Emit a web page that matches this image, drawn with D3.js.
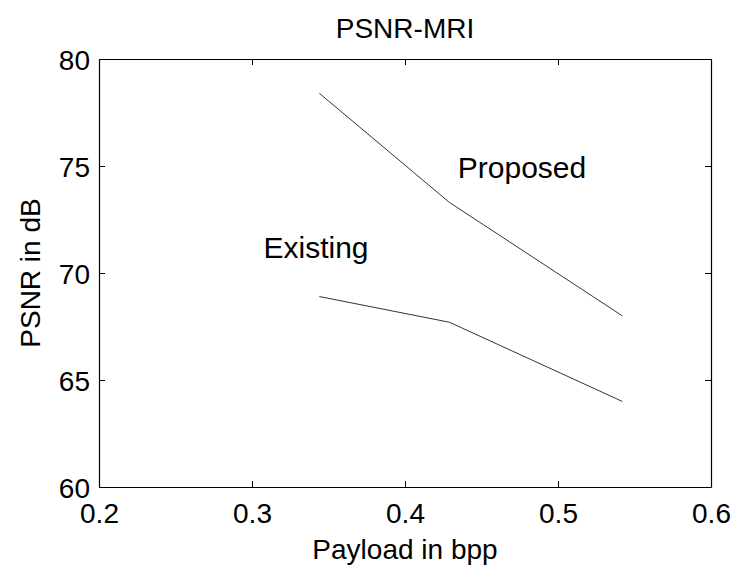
<!DOCTYPE html>
<html>
<head>
<meta charset="utf-8">
<script src="https://cdn.jsdelivr.net/npm/d3@7"></script>
<style>
  body { margin: 0; background: #fff; }
  svg { display: block; font-family: "Liberation Sans", Arial, sans-serif; }
</style>
</head>
<body>
<svg id="chart" width="735" height="570"></svg>
<script>
const payload = [0.344, 0.429, 0.542];
const proposed = [78.4, 73.3, 68.0];
const existing = [68.9, 67.7, 64.0];
const xTicks = [0.2, 0.3, 0.4, 0.5, 0.6];
const yTicks = [60, 65, 70, 75, 80];
const title = "PSNR-MRI";
const xLabel = "Payload in bpp";
const yLabel = "PSNR in dB";
const annotations = [
  { text: "Proposed", x: 0.4345, y: 74.45 },
  { text: "Existing", x: 0.3075, y: 70.7 }
];

const svg = d3.select("#chart");
const m = { left: 99, right: 735 - 711, top: 59, bottom: 570 - 487 };
const W = 735 - m.left - m.right, H = 570 - m.top - m.bottom;
const x = d3.scaleLinear().domain([0.2, 0.6]).range([m.left, m.left + W]);
const y = d3.scaleLinear().domain([60, 80]).range([m.top + H, m.top]);

const fs = 28;
const fsAnn = 30;
const FF = "Liberation Sans, Arial, sans-serif";
const g = svg.append("g");

const tickLen = 6;
const fmtX = d => d.toFixed(1);
g.append("g").attr("transform", `translate(0,${m.top + H})`)
  .call(d3.axisBottom(x).tickValues(xTicks).tickFormat(fmtX).tickSizeInner(-tickLen).tickSizeOuter(0).tickPadding(16))
  .call(a => a.selectAll("text").attr("font-size", fs).attr("fill", "#000").attr("dy", "0.72em"));
g.append("g").attr("transform", `translate(0,${m.top})`)
  .call(d3.axisTop(x).tickValues(xTicks).tickFormat("").tickSizeInner(-tickLen).tickSizeOuter(0));
g.append("g").attr("transform", `translate(${m.left},0)`)
  .call(d3.axisLeft(y).tickValues(yTicks).tickSizeInner(-tickLen).tickSizeOuter(0).tickPadding(9))
  .call(a => a.selectAll("text").attr("font-size", fs).attr("fill", "#000").attr("dy", "0.36em"));
g.append("g").attr("transform", `translate(${m.left + W},0)`)
  .call(d3.axisRight(y).tickValues(yTicks).tickFormat("").tickSizeInner(-tickLen).tickSizeOuter(0));
g.selectAll(".domain").attr("stroke", "#000").attr("stroke-width", 1.2);
g.selectAll(".tick line").attr("stroke", "#000");
svg.selectAll("text").attr("font-family", FF);

const line = d3.line().x(d => x(d[0])).y(d => y(d[1]));
[proposed, existing].forEach(s => {
  svg.append("path").datum(payload.map((p, i) => [p, s[i]]))
    .attr("d", line).attr("fill", "none").attr("stroke", "#000").attr("stroke-width", 0.8);
});

annotations.forEach(a => {
  svg.append("text").attr("x", x(a.x)).attr("y", y(a.y)).attr("font-size", fsAnn)
    .attr("font-family", FF).text(a.text);
});

svg.append("text").attr("x", m.left + W / 2).attr("y", 38).attr("text-anchor", "middle")
  .attr("font-size", fs).attr("font-family", FF).text(title);
svg.append("text").attr("x", m.left + W / 2).attr("y", 559).attr("text-anchor", "middle")
  .attr("font-size", fs).attr("font-family", FF).text(xLabel);
svg.append("text").attr("transform", `translate(40,${m.top + H / 2}) rotate(-90)`).attr("text-anchor", "middle")
  .attr("font-size", fs).attr("font-family", FF).text(yLabel);
</script>
</body>
</html>
